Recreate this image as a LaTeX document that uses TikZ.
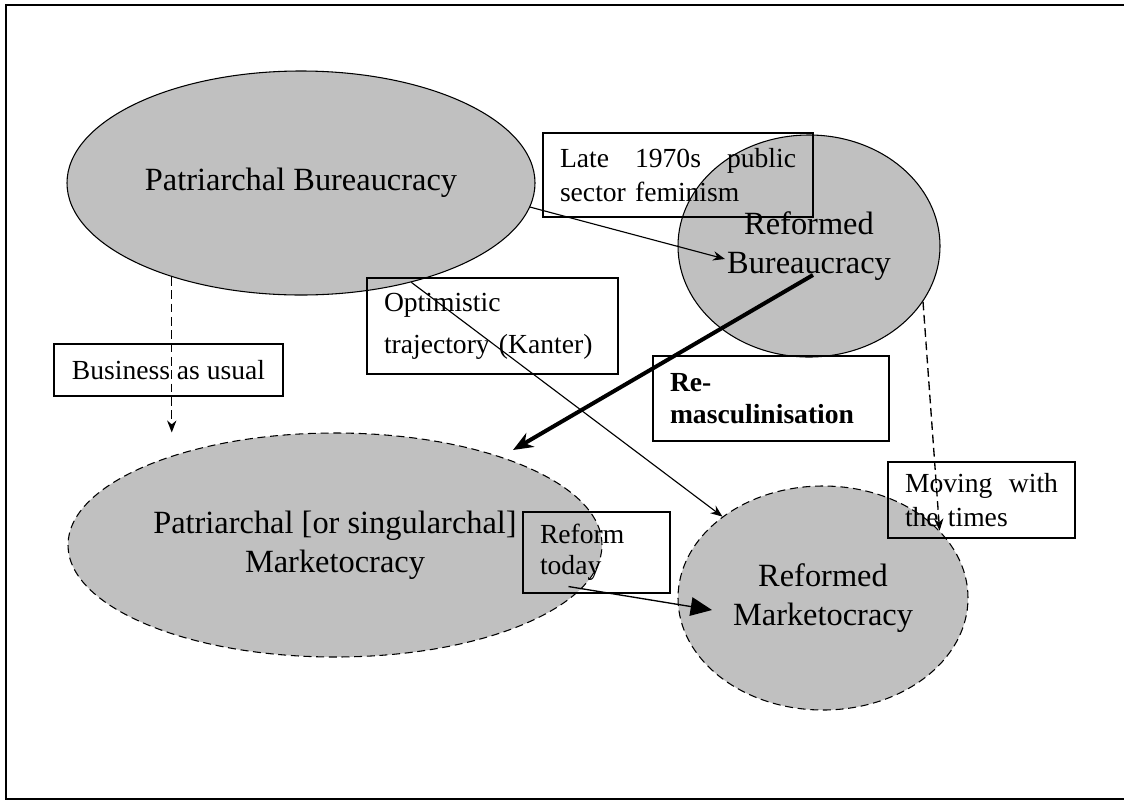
\documentclass[tikz,border=0pt]{standalone}
\usepackage{fontspec}
\setmainfont{Liberation Serif}
\usetikzlibrary{shapes.geometric,arrows.meta,calc}
\definecolor{ovalgray}{RGB}{192,192,192}

\begin{document}
\begin{tikzpicture}[
            x=0.75pt, y=-0.75pt,
            every node/.style={inner sep=0pt}
        ]

        % Define styles for nodes
        \tikzset{
            oval/.style={ellipse, draw=black, fill=ovalgray, line width=.8pt, align=center, font=\fontsize{24.3}{29.5}\selectfont},
            newoval/.style={oval, dash pattern=on 6pt off 3.5pt},
            tag/.style={rectangle, draw=black, line width=.8pt, inner xsep=12.75pt, align=left, font=\fontsize{20.7}{25}\selectfont},
            link/.style={-{Stealth[length=9pt,width=7pt]}, line width=.85pt},
            maybe/.style={link, line width=1pt, dash pattern=on 6.5pt off 3.5pt}
        }

        \useasboundingbox (0,0) rectangle (1124,800);
        \draw[line width=1.5pt] (5.5,4.5) rectangle (1130,798.5);

        % Top row: bureaucracies
        \node[oval, minimum width=351pt, minimum height=168pt] (patBureau) at (301,183) {Patriarchal Bureaucracy};
        \node[oval, minimum width=196.5pt, minimum height=166.5pt] (refBureau) at (809,246) {Reformed\\Bureaucracy};
        % Bottom row: marketocracies
        \node[newoval, minimum width=400.5pt, minimum height=168pt] (patMarket) at (335,545) {Patriarchal [or singularchal]\\Marketocracy};
        \node[newoval, minimum width=217.5pt, minimum height=168pt] (refMarket) at (823,598) {Reformed\\Marketocracy};

        % Labels
        \node[tag, text width=177pt, minimum height=63pt] (lateFem) at (678,175) {Late\hfill 1970s\hfill public\\sector feminism};
        \node[tag, text width=162.75pt, minimum height=72pt, font=\fontsize{20.7}{31.5}\selectfont] (kanter) at (492.5,326) {Optimistic\\trajectory (Kanter)};
        \node[tag, minimum width=171.75pt, minimum height=39pt, align=center] (usual) at (168.5,370) {Business as usual};
        \node[tag, text width=151.5pt, minimum height=63.75pt, font=\fontsize{20.7}{24}\selectfont\bfseries] (remasc) at (771,398.5) {Re-\\masculinisation};
        \node[tag, text width=114.75pt, minimum height=57pt] (withTimes) at (981.5,500) {Moving\hfill with\\the times};
        \node[tag, text width=84.75pt, minimum height=60.75pt, font=\fontsize{20.7}{23.5}\selectfont] (today) at (596.5,552.5) {Reform\\today};

        % Arrows
        \draw[link] (patBureau.-6) -- ($(refBureau.center)+(-84,13)$);
        \draw[link] (patBureau.-42) -- (refMarket.141);
        \draw[maybe] (patBureau.216) -- (patBureau.216 |- patMarket.north);
        \draw[maybe] (refBureau.-26) -- (refMarket.30);
        \draw[-{Stealth[length=15pt,width=12pt]}, line width=3pt] ($(refBureau.center)+(4,29)$) -- ($(patMarket.center)+(178,-95)$);
        \draw[-{Triangle[length=16pt,width=14pt]}, line width=1pt] ($(today.south)+(-28,-7)$) -- ($(refMarket.center)+(-111,12)$);

\end{tikzpicture}
\end{document}
